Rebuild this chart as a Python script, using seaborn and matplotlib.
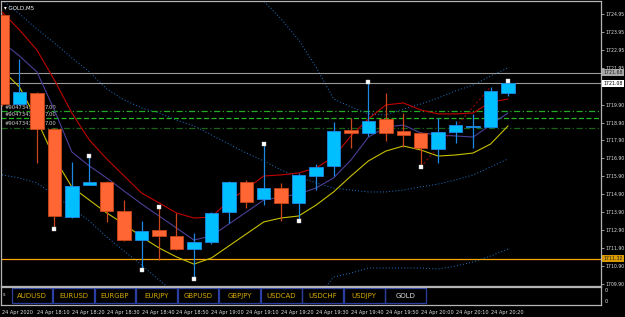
import numpy as np
import pandas as pd
import seaborn as sns
import matplotlib
matplotlib.use("Agg")
import matplotlib.pyplot as plt
import matplotlib.transforms as mtransforms
from matplotlib.patches import Rectangle

# GOLD, M5 - 24 Apr 2020, 18:00 .. 20:25
times = ["18:00", "18:05", "18:10", "18:15", "18:20", "18:25", "18:30", "18:35",
         "18:40", "18:45", "18:50", "18:55", "19:00", "19:05", "19:10", "19:15",
         "19:20", "19:25", "19:30", "19:35", "19:40", "19:45", "19:50", "19:55",
         "20:00", "20:05", "20:10", "20:15", "20:20", "20:25"]
opens = [1724.89, 1719.93, 1720.55, 1718.54, 1713.63, 1715.42, 1715.59, 1713.97,
         1712.35, 1712.91, 1712.58, 1711.85, 1712.24, 1713.91, 1715.59, 1714.64,
         1715.25, 1714.42, 1715.92, 1716.48, 1718.48, 1718.32, 1719.10, 1718.43,
         1718.32, 1717.43, 1718.37, 1718.65, 1718.65, 1720.55]
highs = [1724.95, 1722.44, 1720.60, 1718.60, 1716.70, 1717.03, 1715.62, 1714.58,
         1713.41, 1714.19, 1713.86, 1712.74, 1713.91, 1715.62, 1715.70, 1717.70,
         1715.53, 1716.09, 1716.59, 1718.93, 1719.15, 1721.16, 1720.55, 1719.43,
         1718.35, 1719.15, 1718.99, 1719.38, 1720.88, 1721.22]
lows = [1719.80, 1719.90, 1716.64, 1712.97, 1713.60, 1715.40, 1713.36, 1712.30,
        1710.68, 1711.24, 1711.80, 1710.18, 1712.13, 1713.30, 1714.14, 1714.30,
        1713.41, 1713.41, 1715.14, 1715.92, 1717.48, 1718.15, 1717.87, 1717.54,
        1716.42, 1716.64, 1717.76, 1717.48, 1718.60, 1720.38]
closes = [1719.93, 1720.60, 1718.54, 1713.69, 1715.36, 1715.59, 1713.97, 1712.35,
          1712.85, 1712.58, 1711.85, 1712.24, 1713.86, 1715.59, 1714.47, 1715.25,
          1714.42, 1715.98, 1716.42, 1718.43, 1718.32, 1718.99, 1718.32, 1718.21,
          1717.48, 1718.37, 1718.76, 1718.66, 1720.66, 1721.08]

# indicators
ma_red = [1725.06, 1724.06, 1722.94, 1721.27, 1719.43, 1717.93, 1716.87, 1715.92,
          1714.97, 1714.42, 1713.86, 1713.58, 1713.63, 1714.53, 1715.20, 1715.92,
          1715.98, 1716.09, 1716.37, 1716.98, 1718.15, 1719.10, 1719.88, 1719.99,
          1719.60, 1719.38, 1719.38, 1719.43, 1720.04, 1720.21]
ma_purple = [1723.39, 1722.61, 1721.72, 1719.60, 1717.26, 1716.48, 1715.81, 1715.08,
             1714.36, 1713.69, 1713.02, 1712.35, 1712.58, 1713.24, 1713.91, 1714.58,
             1714.75, 1714.92, 1715.25, 1715.81, 1716.81, 1718.09, 1718.65, 1718.76,
             1718.32, 1718.21, 1718.15, 1718.09, 1718.76, 1719.43]
ma_yellow = [1721.83, 1720.88, 1719.04, 1716.92, 1715.31, 1714.58, 1713.86, 1713.24,
             1712.52, 1711.91, 1711.41, 1711.01, 1711.35, 1712.02, 1712.69, 1713.36,
             1713.58, 1713.69, 1714.30, 1715.03, 1715.92, 1716.76, 1717.31, 1717.59,
             1717.37, 1717.03, 1717.09, 1717.20, 1717.70, 1718.71]
bb_upper = [1735.48, 1734.09, 1732.70, 1731.81, 1730.86, 1730.02, 1729.02, 1728.57,
            1728.46, 1728.74, 1728.74, 1728.85, 1728.52, 1728.07, 1727.12, 1725.67,
            1724.67, 1723.50, 1722.00, 1720.21, 1719.77, 1719.38, 1719.32, 1719.65,
            1719.93, 1720.27, 1720.66, 1720.99, 1721.49, 1721.94]
bb_mid = [1725.73, 1724.95, 1724.11, 1723.33, 1722.50, 1721.72, 1720.77, 1720.16,
          1719.71, 1719.43, 1719.04, 1718.71, 1718.21, 1717.70, 1717.20, 1716.76,
          1716.25, 1715.86, 1715.53, 1715.25, 1715.14, 1715.03, 1715.03, 1715.14,
          1715.31, 1715.47, 1715.70, 1715.98, 1716.42, 1716.87]
bb_lower = [1715.98, 1715.81, 1715.53, 1714.86, 1714.14, 1713.41, 1712.52, 1711.74,
            1710.96, 1710.12, 1709.34, 1708.56, 1707.89, 1707.34, 1707.28, 1707.84,
            1707.84, 1708.23, 1709.06, 1710.29, 1710.51, 1710.79, 1710.79, 1710.79,
            1710.79, 1710.74, 1710.90, 1711.13, 1711.46, 1711.85]

fractal_up = [5, 9, 15, 21, 29]
fractal_down = [3, 8, 11, 17, 24]
zigzag_bars = [24, 28]
zigzag_prices = [1716.42, 1720.88]

order_levels = [1719.54, 1719.14, 1718.61]
order_tags = ["#904734361", "#904734362", "#904734363"]
order_lots = ["7.00", "7.00", "7.00"]

ask_price = 1721.68
bid_price = 1721.08
alert_price = 1711.32

price_ticks = [1724.95, 1723.95, 1722.95, 1721.95, 1719.90, 1718.90, 1717.90,
               1716.90, 1715.90, 1714.90, 1713.90, 1712.90, 1711.90, 1710.90, 1709.90]
time_ticks = list(range(0, 30, 2))
time_labels = ["24 Apr 2020", "24 Apr 18:10", "24 Apr 18:20", "24 Apr 18:30",
               "24 Apr 18:40", "24 Apr 18:50", "24 Apr 19:00", "24 Apr 19:10",
               "24 Apr 19:20", "24 Apr 19:30", "24 Apr 19:40", "24 Apr 19:50",
               "24 Apr 20:00", "24 Apr 20:10", "24 Apr 20:20"]
symbols = ["AUDUSD", "EURUSD", "EURGBP", "EURJPY", "GBPUSD", "GBPJPY",
           "USDCAD", "USDCHF", "USDJPY", "GOLD"]

df = pd.DataFrame({"bar": np.arange(len(times)), "time": times, "open": opens,
                   "high": highs, "low": lows, "close": closes,
                   "ma_red": ma_red, "ma_purple": ma_purple, "ma_yellow": ma_yellow,
                   "bb_upper": bb_upper, "bb_mid": bb_mid, "bb_lower": bb_lower})

sns.set_theme(style="dark", rc={"axes.facecolor": "black", "figure.facecolor": "black",
                                "axes.edgecolor": "#b4b4b4", "text.color": "#e0e0e0",
                                "xtick.color": "#b4b4b4", "ytick.color": "#b4b4b4"})
plt.rcParams["font.family"] = ["DejaVu Sans"]

fig = plt.figure(figsize=(6.25, 3.17), dpi=100)
ax = fig.add_axes([0.0024, 0.0978, 0.9592, 0.899])
sub = fig.add_axes([0.0024, 0.0379, 0.9592, 0.0568])

bull_body, bull_wick = "#00bfff", "#1e88e5"
bear_body, bear_wick = "#ff6633", "#c8461a"

# bollinger bands
for col in ["bb_upper", "bb_mid", "bb_lower"]:
    sns.lineplot(data=df, x="bar", y=col, ax=ax, color="#1f78d1", lw=0.7,
                 linestyle=(0, (1, 2.2)), zorder=2, legend=False)
# moving averages
sns.lineplot(data=df, x="bar", y="ma_red", ax=ax, color="#c00000", lw=0.8, zorder=3)
sns.lineplot(data=df, x="bar", y="ma_purple", ax=ax, color="#4a3f96", lw=0.8, zorder=3)
sns.lineplot(data=df, x="bar", y="ma_yellow", ax=ax, color="#c8c000", lw=0.8, zorder=3)
ax.plot(zigzag_bars, zigzag_prices, color="#8b0000", lw=0.8, ls=(0, (2, 2)), zorder=3)

# horizontal levels
ax.axhline(ask_price, color="#9a9a9a", lw=0.8, zorder=2)
ax.axhline(bid_price, color="#9a9a9a", lw=0.8, zorder=2)
ax.axhline(alert_price, color="#ffa500", lw=0.9, zorder=2)
order_styles = [("#22a822", (0, (5, 2, 1, 2))), ("#22b822", (0, (4, 2))),
                ("#176417", (0, (5, 2, 1, 2)))]
for lvl, tag, lot, (c, ls) in zip(order_levels, order_tags, order_lots, order_styles):
    ax.axhline(lvl, color=c, lw=0.9, ls=ls, zorder=2)
    ax.text(0.005, lvl + 0.08, tag, fontsize=3.8, color="#d0d0d0", va="bottom",
            transform=mtransforms.blended_transform_factory(ax.transAxes, ax.transData),
            zorder=2)
    ax.text(2.45, lvl + 0.08, lot, fontsize=3.8, color="#d0d0d0", va="bottom", zorder=2)

# candles
for r in df.itertuples():
    up = r.close >= r.open
    body_c = bull_body if up else bear_body
    wick_c = bull_wick if up else bear_wick
    ax.vlines(r.bar, r.low, r.high, color=wick_c, lw=0.9, zorder=4)
    lo, hi = min(r.open, r.close), max(r.open, r.close)
    ax.bar(r.bar, max(hi - lo, 0.04), bottom=lo, width=0.77, color=body_c,
           edgecolor=wick_c, linewidth=0.6, zorder=5)

# fractal markers
ax.scatter(fractal_up, [highs[i] for i in fractal_up], s=5, marker="s",
           color="white", edgecolor="#c8c8c8", linewidth=0.3, zorder=6)
ax.scatter(fractal_down, [lows[i] for i in fractal_down], s=5, marker="s",
           color="white", edgecolor="#c8c8c8", linewidth=0.3, zorder=6)

ax.set_xlim(-0.03, 34.33)
ax.set_ylim(1709.79, 1725.67)
ax.set_xlabel("")
ax.set_ylabel("")
ax.set_xticks([])
ax.yaxis.tick_right()
ax.set_yticks(price_ticks)
ax.set_yticklabels([f"{v:.2f}" for v in price_ticks])
ax.tick_params(axis="y", length=2, width=0.6, pad=1.0, labelsize=3.3,
               labelcolor="#e0e0e0", right=True, left=False)
for s in ax.spines.values():
    s.set_color("#b4b4b4")
    s.set_linewidth(0.9)

# price boxes on the right scale
tr = mtransforms.blended_transform_factory(ax.transAxes, ax.transData)
for price, fc, tc in [(ask_price, "#a8a8a8", "#202020"), (bid_price, "white", "black"),
                      (alert_price, "#d89a00", "#202020")]:
    ax.text(1.004, price, f"{price:.2f}", transform=tr, fontsize=3.3, color=tc,
            va="center", ha="left",
            bbox=dict(boxstyle="square,pad=0.25", fc=fc, ec="none"), clip_on=False)

ax.text(0.004, 0.985, "\u25be GOLD,M5", transform=ax.transAxes, fontsize=4,
        color="white", va="top", ha="left", zorder=7)

# sub window with symbol buttons
sub.set_xlim(-0.03, 34.33)
sub.set_ylim(0, 1)
sub.set_yticks([])
sub.set_xticks(time_ticks)
sub.set_xticklabels(time_labels, ha="left")
sub.tick_params(axis="x", length=2.5, width=0.6, pad=1.2, labelsize=3.6,
                labelcolor="#e0e0e0", direction="out")
for s in sub.spines.values():
    s.set_color("#b4b4b4")
    s.set_linewidth(0.9)
sub.text(0.002, 0.6, "s", transform=sub.transAxes, fontsize=3.5, color="#d0d0d0",
         va="center")
for k, name in enumerate(symbols):
    x0 = 0.0167 + k * 0.0693
    sub.add_patch(Rectangle((x0, 0.12), 0.0680, 0.82, transform=sub.transAxes,
                            fill=False, ec="#2a3fa0", lw=0.9))
    sub.text(x0 + 0.034, 0.52, name, transform=sub.transAxes, fontsize=5,
             color="#e0e0e0" if name == "GOLD" else "#d4a800",
             ha="center", va="center")
for yy in [0.82, 0.22]:
    sub.text(1.006, yy, "0", transform=sub.transAxes, fontsize=3.5,
             color="#e0e0e0", va="center", ha="left")

fig.savefig("out.png", dpi=100, facecolor="black")
